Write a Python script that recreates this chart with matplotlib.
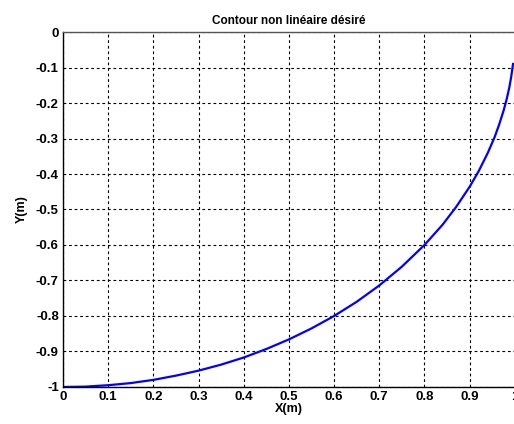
import numpy as np
import matplotlib
matplotlib.use('Agg')
import matplotlib.pyplot as plt

# points
x = [0.0, 0.05, 0.1, 0.15, 0.2, 0.25, 0.3, 0.35, 0.4, 0.45, 0.5, 0.55, 0.6,
     0.65, 0.7, 0.75, 0.8, 0.84, 0.87, 0.9, 0.92, 0.94, 0.955, 0.965, 0.975,
     0.982, 0.988, 0.992, 0.996]
y = [-1.0, -0.999, -0.995, -0.989, -0.98, -0.968, -0.954, -0.937, -0.917,
     -0.893, -0.866, -0.835, -0.8, -0.76, -0.714, -0.661, -0.6, -0.543,
     -0.493, -0.436, -0.392, -0.341, -0.297, -0.262, -0.222, -0.189,
     -0.155, -0.126, -0.09]

xticks = [0, 0.1, 0.2, 0.3, 0.4, 0.5, 0.6, 0.7, 0.8, 0.9, 1]
xticklabels = ['0', '0.1', '0.2', '0.3', '0.4', '0.5', '0.6', '0.7', '0.8', '0.9', '1']
yticks = [0, -0.1, -0.2, -0.3, -0.4, -0.5, -0.6, -0.7, -0.8, -0.9, -1]
yticklabels = ['0', '-0.1', '-0.2', '-0.3', '-0.4', '-0.5', '-0.6', '-0.7', '-0.8', '-0.9', '-1']

plt.rcParams['font.family'] = ['Liberation Sans', 'DejaVu Sans']
plt.rcParams['font.weight'] = 'bold'

fig = plt.figure(figsize=(5.14, 4.24), dpi=100)
ax = fig.add_axes([0.1226, 0.0873, 0.879, 0.8372])
ax.plot(x, y, color='#0000ff', linewidth=1.6)

ax.set_xlim(0, 1)
ax.set_ylim(-1, 0)
ax.set_xticks(xticks)
ax.set_xticklabels(xticklabels, fontsize=9.5, fontweight='bold')
ax.set_yticks(yticks)
ax.set_yticklabels(yticklabels, fontsize=9.5, fontweight='bold')
ax.tick_params(direction='in', length=0, pad=3)
ax.grid(True, color='black', linestyle=(0, (2.5, 2.5)), linewidth=0.8)

for s in ax.spines.values():
    s.set_linewidth(1.0)
    s.set_color('black')
ax.spines['top'].set_color('#555555')
ax.spines['right'].set_visible(False)

ax.set_xlabel('X(m)', fontsize=9, fontweight='bold', labelpad=0)
ax.set_ylabel('Y(m)', fontsize=9, fontweight='bold', labelpad=6)
ax.set_title('Contour non linéaire désiré', fontsize=8.5, fontweight='bold', pad=6)

fig.savefig('out.png', dpi=100)
